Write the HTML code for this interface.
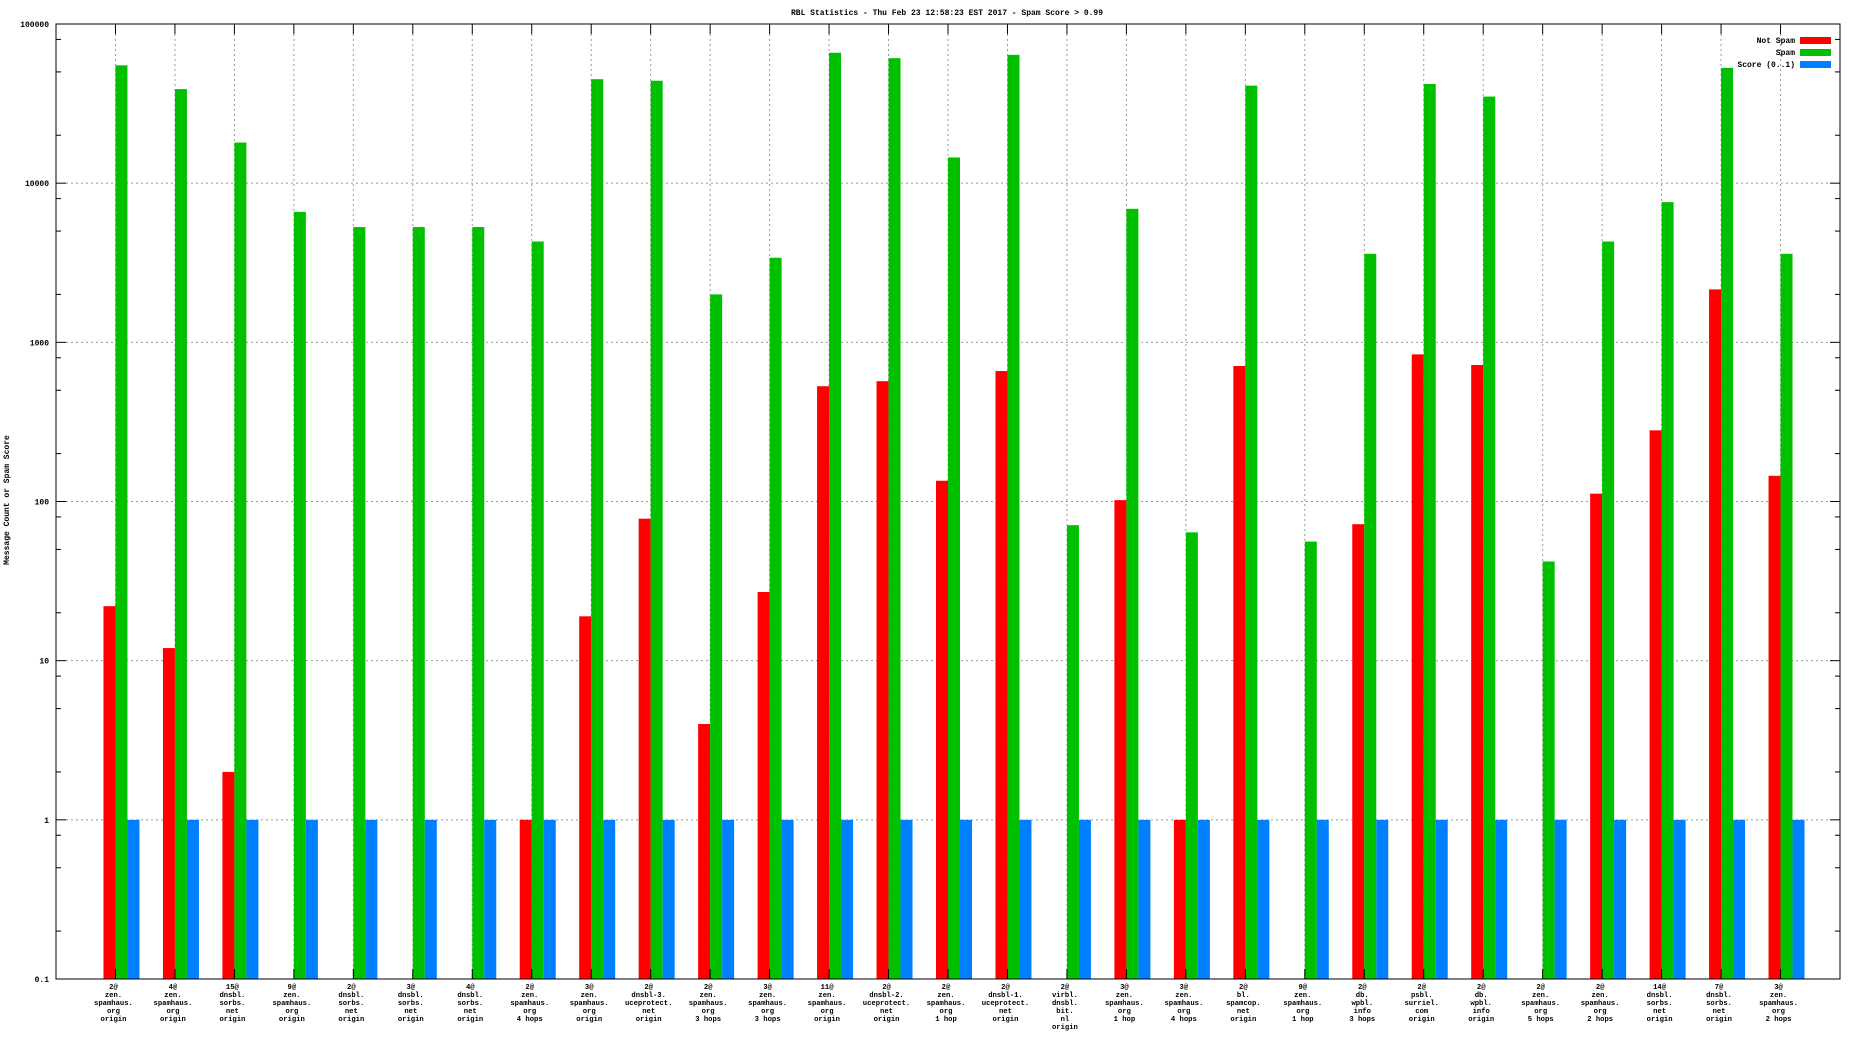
<!DOCTYPE html>
<html><head><meta charset="utf-8"><style>
html,body{margin:0;padding:0;background:#fff;}
svg{display:block;font-family:"Liberation Mono",monospace;}
</style></head><body>
<svg id="chart" width="1856" height="1044" viewBox="0 0 1856 1044" xmlns="http://www.w3.org/2000/svg">
<text x="947" y="15" font-size="8" text-anchor="middle" font-weight="bold">RBL Statistics - Thu Feb 23 12:58:23 EST 2017 - Spam Score &gt; 0.99</text>
<text x="0" y="0" font-size="8" font-weight="bold" text-anchor="middle" transform="translate(9,500) rotate(-90)">Message Count or Spam Score</text>
<g id="grid"></g><g id="bars"></g><g id="axes"></g><g id="labels"></g>
<g>
<text x="1795" y="43" font-size="8" font-weight="bold" text-anchor="end">Not Spam</text>
<rect x="1800" y="37" width="31" height="7" fill="#ff0000"/>
<text x="1795" y="55" font-size="8" font-weight="bold" text-anchor="end">Spam</text>
<rect x="1800" y="49" width="31" height="7" fill="#00c000"/>
<text x="1795" y="67" font-size="8" font-weight="bold" text-anchor="end">Score (0..1)</text>
<rect x="1800" y="61" width="31" height="7" fill="#0080ff"/>
</g>
</svg>
<script>
const categories = [
"2@|zen.|spamhaus.|org|origin","4@|zen.|spamhaus.|org|origin","15@|dnsbl.|sorbs.|net|origin","9@|zen.|spamhaus.|org|origin",
"2@|dnsbl.|sorbs.|net|origin","3@|dnsbl.|sorbs.|net|origin","4@|dnsbl.|sorbs.|net|origin","2@|zen.|spamhaus.|org|4 hops",
"3@|zen.|spamhaus.|org|origin","2@|dnsbl-3.|uceprotect.|net|origin","2@|zen.|spamhaus.|org|3 hops","3@|zen.|spamhaus.|org|3 hops",
"11@|zen.|spamhaus.|org|origin","2@|dnsbl-2.|uceprotect.|net|origin","2@|zen.|spamhaus.|org|1 hop","2@|dnsbl-1.|uceprotect.|net|origin",
"2@|virbl.|dnsbl.|bit.|nl|origin","3@|zen.|spamhaus.|org|1 hop","3@|zen.|spamhaus.|org|4 hops","2@|bl.|spamcop.|net|origin",
"9@|zen.|spamhaus.|org|1 hop","2@|db.|wpbl.|info|3 hops","2@|psbl.|surriel.|com|origin","2@|db.|wpbl.|info|origin",
"2@|zen.|spamhaus.|org|5 hops","2@|zen.|spamhaus.|org|2 hops","14@|dnsbl.|sorbs.|net|origin","7@|dnsbl.|sorbs.|net|origin",
"3@|zen.|spamhaus.|org|2 hops"];
const notSpam = [22,12,2,0,0,0,0,1,19,78,4,27,530,570,135,660,0,102,1,710,0,72,840,720,0,112,280,2150,145];
const spam = [55000,39000,18000,6600,5300,5300,5300,4300,45000,44000,2000,3400,66000,61000,14500,64000,71,6900,64,41000,56,3600,42000,35000,42,4300,7600,53000,3600];
const score = [1,1,1,1,1,1,1,1,1,1,1,1,1,1,1,1,1,1,1,1,1,1,1,1,1,1,1,1,1];
const yTickLabels = ["0.1","1","10","100","1000","10000","100000"];

const NS="http://www.w3.org/2000/svg";
const L=56,R=1840,T=24,B=979;
function xs(i){return L+(i+1)*(R-L)/30;}
function ys(v){return B-(Math.log10(v)+1)*(B-T)/6;}
function mk(tag,attrs,parent){const e=document.createElementNS(NS,tag);for(const k in attrs)e.setAttribute(k,attrs[k]);parent.appendChild(e);return e;}
const grid=document.getElementById('grid'),bars=document.getElementById('bars'),axes=document.getElementById('axes'),labels=document.getElementById('labels');
// horizontal grid + y ticks
yTickLabels.forEach(function(t){
  const v=parseFloat(t),y=ys(v);
  if(v>0.1&&v<100000){const g=mk('line',{x1:L+10,x2:R-10,y1:y,y2:y,stroke:'#999','stroke-dasharray':'2,3','stroke-width':1},grid);
  
  }
  const tx=mk('text',{x:L-7,y:y+3,'font-size':8,'font-weight':'bold','text-anchor':'end'},labels);
  tx.textContent=t;
  
  
  [L,R].forEach(function(x0){const d=x0===L?1:-1;
    const tk=mk('line',{x1:x0,x2:x0+d*10,y1:y,y2:y,stroke:'#000','stroke-width':1},axes);
    
    
    if(v<100000)[2,5,8].forEach(function(m){const ym=ys(v*m);
      const mt=mk('line',{x1:x0,x2:x0+d*5,y1:ym,y2:ym,stroke:'#000','stroke-width':1},axes);
      
      });
  });
});
// bars & categories
const bw=12;
categories.forEach(function(c,i){
  const cx=xs(i);
  const gl=mk('line',{x1:cx,x2:cx,y1:T+10,y2:B,stroke:'#999','stroke-dasharray':'2,3','stroke-width':1},grid);
  
  
  [T,B].forEach(function(y0){const d=y0===T?1:-1;
    const tk=mk('line',{x1:cx,x2:cx,y1:y0,y2:y0+d*10,stroke:'#000','stroke-width':1},axes);
    
    });
  const series=[[notSpam[i],'#ff0000','not-spam'],[spam[i],'#00c000','spam'],[score[i],'#0080ff','score']];
  series.forEach(function(s,k){
    if(!(s[0]>0))return;
    const y=ys(s[0]);
    const r=mk('rect',{x:cx-12+k*bw,y:y,width:bw,height:B-y,fill:s[1]},bars);
    
    
  });
  const t=mk('text',{x:cx-2,y:989,'font-size':7.2,'font-weight':'bold','text-anchor':'middle'},labels);
  
  
  c.split('|').forEach(function(line,j){const ts=mk('tspan',{x:cx-2,dy:j?8:0},t);ts.textContent=line;});
});
const fr=mk('rect',{x:L,y:T,width:R-L,height:B-T,fill:'none',stroke:'#000','stroke-width':1},axes);


</script>
</body></html>
